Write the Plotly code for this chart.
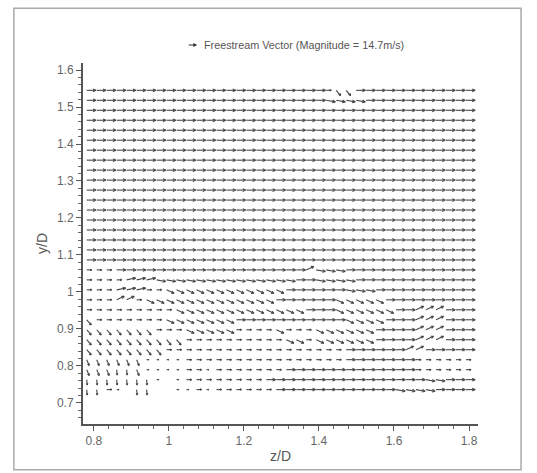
import math
import numpy as np
import plotly.graph_objects as go
import plotly.figure_factory as ff

# ---------------- data ----------------
FREESTREAM = 14.7  # m/s

# measurement grid (tail positions of the vectors)
Z_START, Z_STEP, N_COLS = 0.781, 0.0266, 39
Y_START, Y_STEP, N_ROWS = 0.736, 0.02697, 31

# direction / magnitude codes used in the grid below:
# code -> (angle in degrees, magnitude relative to freestream)
VECTOR_CODES = {
    "-": (0, 1.00),
    "s": (0, 0.55),
    ".": (0, 0.25),
    " ": (0, 0.00),
    "e": (-10, 1.00),
    "n": (12, 1.00),
    "d": (-25, 0.90),
    "u": (25, 0.90),
    "D": (-50, 0.75),
    "V": (-68, 0.70),
    "I": (-85, 0.60),
}

# one string per row, bottom row (y/D ~ 0.74) first, one code per column
VECTOR_ROWS = [
    "IIs. II  ..s.ssssss------------eeee----",
    "IIIIIII. .ssssssss----------------ee---",
    "VVVIIV....ss.sssssss-------------ssssss",
    "VVVVVV....ssssssssssssssss-------ssssss",
    "DDDDDDDDssssssssssssssssss------uu-----",
    "DDDDDDDDDDssssssssssddsdddddd----uuu---",
    "DDDDDDDsssdddddssssdsssdddddd----uuu---",
    "Dsssssssddddddd-----------dddd---uuu---",
    "sssssssssddddddddddddd---dddddd--uuu---",
    "sssuusddddddddddddd------ddddd---------",
    "sssnnnssdddddddddddd------eee----------",
    "ssssnnneeeeeeeeeeeeee--eeee------------",
    "sss-------------------ueee-------------",
    "---------------------------------------",
    "---------------------------------------",
    "---------------------------------------",
    "---------------------------------------",
    "---------------------------------------",
    "---------------------------------------",
    "---------------------------------------",
    "---------------------------------------",
    "---------------------------------------",
    "---------------------------------------",
    "---------------------------------------",
    "---------------------------------------",
    "---------------------------------------",
    "---------------------------------------",
    "---------------------------------------",
    "---------------------------------------",
    "------------------------eeee-----------",
    "------------------------sDD------------",
]

X_TICKS = [0.8, 1.0, 1.2, 1.4, 1.6, 1.8]
Y_TICKS = [0.7, 0.8, 0.9, 1.0, 1.1, 1.2, 1.3, 1.4, 1.5, 1.6]
X_LABEL, Y_LABEL = "z/D", "y/D"
LEGEND_TEXT = "Freestream Vector (Magnitude = 14.7m/s)"

# ---------------- build vectors ----------------
zs, ys, us, vs = [], [], [], []
for j, row in enumerate(VECTOR_ROWS):
    row = row.ljust(N_COLS, "-")[:N_COLS]
    for i, c in enumerate(row):
        ang, mag = VECTOR_CODES[c]
        if mag <= 0:
            continue
        a = math.radians(ang)
        zs.append(Z_START + i * Z_STEP)
        ys.append(Y_START + j * Y_STEP)
        us.append(FREESTREAM * mag * math.cos(a))
        vs.append(FREESTREAM * mag * math.sin(a))

ARROW_LEN = 0.0245  # data units drawn for the freestream magnitude
quiv = ff.create_quiver(zs, ys, us, vs, scale=ARROW_LEN / FREESTREAM,
                        arrow_scale=0.35, angle=math.pi / 7,
                        line=dict(color="#484848", width=1.1))

fig = go.Figure()
fig.add_traces(quiv.data)

FONT = "Liberation Sans, Arial, sans-serif"
axis_common = dict(
    showline=True, linecolor="#555", linewidth=2,
    ticks="outside", ticklen=5, tickcolor="#555", tickwidth=1.2,
    tickfont=dict(family=FONT, size=12, color="#666"),
    showgrid=False, zeroline=False,
)
fig.update_layout(
    width=537, height=473,
    margin=dict(l=83, r=59, t=63, b=49),
    paper_bgcolor="white", plot_bgcolor="white",
    showlegend=False,
    xaxis=dict(range=[0.771, 1.824], tickvals=X_TICKS,
               ticktext=[f"{t:g}" for t in X_TICKS],
               minor=dict(dtick=0.04, tick0=0.8, ticks="outside", ticklen=3, tickcolor="#666"),
               title=dict(text=X_LABEL, font=dict(family=FONT, size=14, color="#555"), standoff=4),
               **axis_common),
    yaxis=dict(range=[0.643, 1.619], tickvals=Y_TICKS,
               ticktext=[f"{t:g}" for t in Y_TICKS],
               minor=dict(dtick=0.02, tick0=0.7, ticks="outside", ticklen=3, tickcolor="#666"),
               title=dict(text=Y_LABEL, font=dict(family=FONT, size=14, color="#555"), standoff=6),
               **axis_common),
)

# freestream reference arrow + caption
fig.add_annotation(x=0.289, y=1.05, xref="paper", yref="paper",
                   ax=-10, ay=0, text="", showarrow=True,
                   arrowhead=2, arrowsize=0.7, arrowwidth=1.1, arrowcolor="#333")
fig.add_annotation(x=0.302, y=1.05, xref="paper", yref="paper",
                   text=LEGEND_TEXT, showarrow=False, xanchor="left", yanchor="middle",
                   font=dict(family=FONT, size=10.8, color="#555"))

# outer frame of the figure
fig.add_shape(type="rect", xref="paper", yref="paper",
              x0=-0.175, x1=1.109, y0=-0.127, y1=1.152,
              line=dict(color="#aaa", width=1.5))

fig.write_html("out.html",
               config={"displayModeBar": False},
               post_script="document.body.style.margin='0';document.body.style.overflow='hidden';")
